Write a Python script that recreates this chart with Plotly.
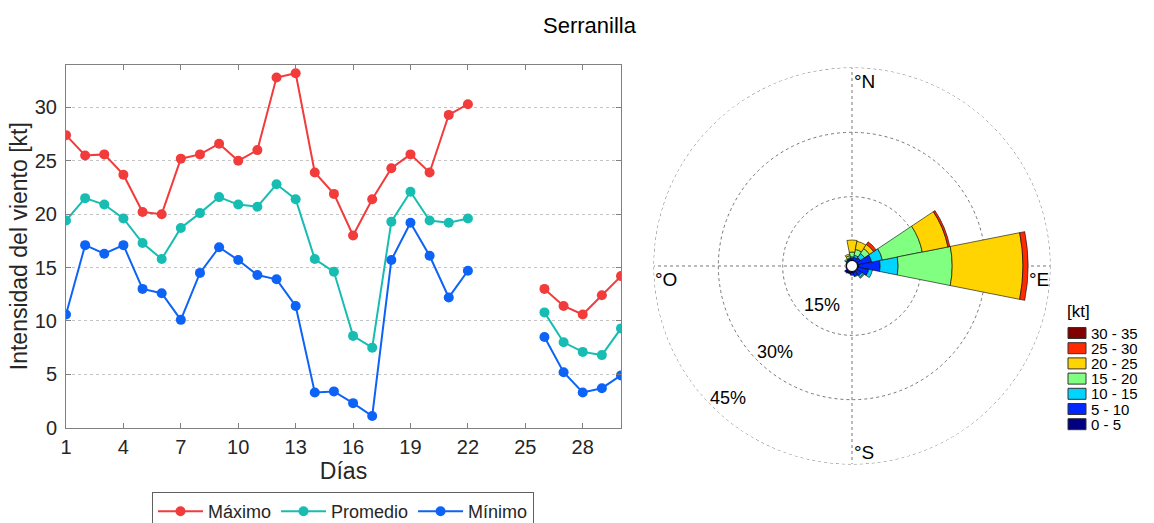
import plotly.graph_objects as go

W, H = 1154, 523

# ---------------- data: daily wind (left) ----------------
days = list(range(1, 31))
maximo = [27.4, 25.5, 25.6, 23.7, 20.2, 20.0, 25.2, 25.6, 26.6, 25.0, 26.0, 32.8, 33.2, 23.9, 21.9,
          18.0, 21.4, 24.3, 25.6, 23.9, 29.3, 30.3, None, None, None, 13.0, 11.4, 10.6, 12.4, 14.2]
promedio = [19.4, 21.5, 20.9, 19.6, 17.3, 15.8, 18.7, 20.1, 21.6, 20.9, 20.7, 22.8, 21.4, 15.8, 14.6,
            8.6, 7.5, 19.3, 22.1, 19.4, 19.2, 19.6, None, None, None, 10.8, 8.0, 7.1, 6.8, 9.3]
minimo = [10.6, 17.1, 16.3, 17.1, 13.0, 12.6, 10.1, 14.5, 16.9, 15.7, 14.3, 13.9, 11.4, 3.3, 3.4,
          2.3, 1.1, 15.7, 19.2, 16.1, 12.2, 14.7, None, None, None, 8.5, 5.2, 3.3, 3.7, 4.9]
x_ticks = [1, 4, 7, 10, 13, 16, 19, 22, 25, 28]
y_ticks = [0, 5, 10, 15, 20, 25, 30]

# ---------------- data: wind rose (right) ----------------
directions = [0, 22.5, 45, 67.5, 90, 112.5, 135, 157.5, 180, 202.5, 225, 247.5, 270, 292.5, 315, 337.5]
classes = ["0 - 5", "5 - 10", "10 - 15", "15 - 20", "20 - 25", "25 - 30", "30 - 35"]
f_0_5 = [0.2, 0.15, 0.2, 0.3, 0.4, 0.3, 0.3, 0.4, 0.5, 0.6, 0.7, 0.3, 0.2, 0.2, 0.2, 0.2]
f_5_10 = [0.5, 0.75, 1.0, 3.2, 5.0, 2.5, 1.3, 0.8, 0.5, 0.1, 0.2, 0.0, 0.0, 0.1, 0.3, 0.4]
f_10_15 = [0.3, 0.5, 1.15, 2.55, 4.2, 0.9, 0.5, 0.2, 0.0, 0.0, 0.0, 0.0, 0.0, 0.0, 0.1, 0.2]
f_15_20 = [1.1, 1.4, 1.4, 9.5, 12.6, 0.0, 0.2, 0.0, 0.0, 0.0, 0.0, 0.0, 0.0, 0.0, 0.3, 0.5]
f_20_25 = [2.8, 1.9, 1.15, 6.1, 16.5, 0.0, 0.0, 0.0, 0.0, 0.0, 0.0, 0.0, 0.0, 0.0, 0.0, 0.4]
f_25_30 = [0.0, 0.0, 0.7, 0.45, 1.2, 0.0, 0.0, 0.0, 0.0, 0.0, 0.0, 0.0, 0.0, 0.0, 0.0, 0.0]
f_30_35 = [0.0] * 16
freqs = [f_0_5, f_5_10, f_10_15, f_15_20, f_20_25, f_25_30, f_30_35]
class_colors = ["#000080", "#0028FF", "#00D4FF", "#80FF80", "#FFD400", "#FF2A00", "#800000"]
rings = [15, 30, 45]

fig = go.Figure()

line_colors = {"Máximo": "#F23B3B", "Promedio": "#17BDB2", "Mínimo": "#0D63F6"}
for name, vals in [("Máximo", maximo), ("Promedio", promedio), ("Mínimo", minimo)]:
    fig.add_trace(go.Scatter(
        x=days, y=vals, name=name, mode="lines+markers",
        line=dict(color=line_colors[name], width=2),
        marker=dict(color=line_colors[name], size=10),
        connectgaps=False, xaxis="x", yaxis="y", legend="legend"))

for cls, f, col in zip(classes, freqs, class_colors):
    fig.add_trace(go.Barpolar(
        r=f, theta=directions, name=cls, width=22.5,
        marker=dict(color=col, line=dict(color="#000000", width=0.6)),
        subplot="polar", showlegend=False))


def px(xp):
    return xp / W


def py(yp):
    return 1 - yp / H


axis_col = "#808080"
grid_col = "#777777"
tick_font = dict(family="Liberation Sans, Arial, sans-serif", size=20, color="#262626")

fig.update_layout(
    width=W, height=H,
    margin=dict(l=0, r=0, t=0, b=0, autoexpand=False),
    paper_bgcolor="white", plot_bgcolor="white",
    font=dict(family="Liberation Sans, Arial, sans-serif", color="#262626"),
    xaxis=dict(domain=[px(66), px(621)], range=[1, 30], tickvals=x_ticks,
               ticks="inside", ticklen=5, tickcolor=axis_col, showline=True, linecolor=axis_col,
               linewidth=1, mirror="ticks", showgrid=False, zeroline=False, tickfont=tick_font,
               ticklabelstandoff=1, automargin=False,
               title=dict(text="Días", font=dict(size=23, color="#262626"), standoff=6)),
    yaxis=dict(domain=[py(427.7), py(64.7)], range=[0, 34], tickvals=y_ticks,
               ticks="inside", ticklen=5, tickcolor=axis_col, showline=True, linecolor=axis_col,
               linewidth=1, mirror="ticks", showgrid=True, gridcolor="#c4c4c4", griddash="dot",
               zeroline=False, tickfont=tick_font, ticklabelstandoff=4, automargin=False,
               title=dict(text="Intensidad del viento [kt]", font=dict(size=23, color="#262626"),
                          standoff=0)),
    legend=dict(orientation="h", x=px(152), y=py(492), xanchor="left", yanchor="top",
                bordercolor="#606060", borderwidth=1, bgcolor="white",
                font=dict(size=18, color="#262626"), itemwidth=45),
    polar=dict(
        domain=dict(x=[px(654), px(1050)], y=[py(464), py(68)]),
        hole=5 / 198, bgcolor="white", barmode="stack",
        radialaxis=dict(range=[0, 45], tickvals=rings, showticklabels=False, ticks="",
                        showline=False, gridcolor=grid_col, griddash="dot", gridwidth=1),
        angularaxis=dict(direction="clockwise", rotation=90, tickvals=[0, 90, 180, 270],
                         showticklabels=False, ticks="", showline=False,
                         gridcolor=grid_col, griddash="dot", gridwidth=1),
    ),
)

ann = []
ann.append(dict(text="Serranilla", x=px(590), y=py(25), xref="paper", yref="paper",
                showarrow=False, font=dict(size=22, color="#000000"), xanchor="center", yanchor="middle"))
# compass labels
comp_font = dict(size=19, color="#000000")
ann.append(dict(text="°N", x=px(852), y=py(69), xref="paper", yref="paper", showarrow=False,
                xanchor="left", yanchor="top", font=comp_font))
ann.append(dict(text="°E", x=px(1051), y=py(267), xref="paper", yref="paper", showarrow=False,
                xanchor="right", yanchor="top", font=comp_font))
ann.append(dict(text="°O", x=px(653), y=py(267), xref="paper", yref="paper", showarrow=False,
                xanchor="left", yanchor="top", font=comp_font))
ann.append(dict(text="°S", x=px(852), y=py(465), xref="paper", yref="paper", showarrow=False,
                xanchor="left", yanchor="bottom", font=comp_font))
# ring labels
for val, (lx, ly) in zip(rings, [(822, 305), (775, 352), (728, 398)]):
    ann.append(dict(text=f"{val}%", x=px(lx), y=py(ly), xref="paper", yref="paper", showarrow=False,
                    xanchor="center", yanchor="middle", font=dict(size=18, color="#000000")))
# wind rose legend (manual)
ann.append(dict(text="[kt]", x=px(1065), y=py(311), xref="paper", yref="paper", showarrow=False,
                xanchor="left", yanchor="middle", font=dict(size=17, color="#000000")))
shapes = []
# outer ring (edge of the radial range)
shapes.append(dict(type="circle", xref="paper", yref="paper",
                   x0=px(654), x1=px(1050), y0=py(464), y1=py(68),
                   line=dict(color=grid_col, width=1, dash="dot"), layer="below"))
for i, (cls, col) in enumerate(zip(classes[::-1], class_colors[::-1])):
    yc = 333 + 15.2 * i
    shapes.append(dict(type="rect", xref="paper", yref="paper",
                       x0=px(1068), x1=px(1086), y0=py(yc - 5.5), y1=py(yc + 5.5),
                       fillcolor=col, line=dict(color="#333333", width=1)))
    ann.append(dict(text=cls, x=px(1089), y=py(yc), xref="paper", yref="paper", showarrow=False,
                    xanchor="left", yanchor="middle", height=15,
                    font=dict(size=15, color="#000000")))
# center hole outline
r_h = 5.5
shapes.append(dict(type="circle", xref="paper", yref="paper",
                   x0=px(852 - r_h), x1=px(852 + r_h), y0=py(266 + r_h), y1=py(266 - r_h),
                   fillcolor="white", line=dict(color="#000000", width=1)))

fig.update_layout(annotations=ann, shapes=shapes)
fig.write_html("out.html")
